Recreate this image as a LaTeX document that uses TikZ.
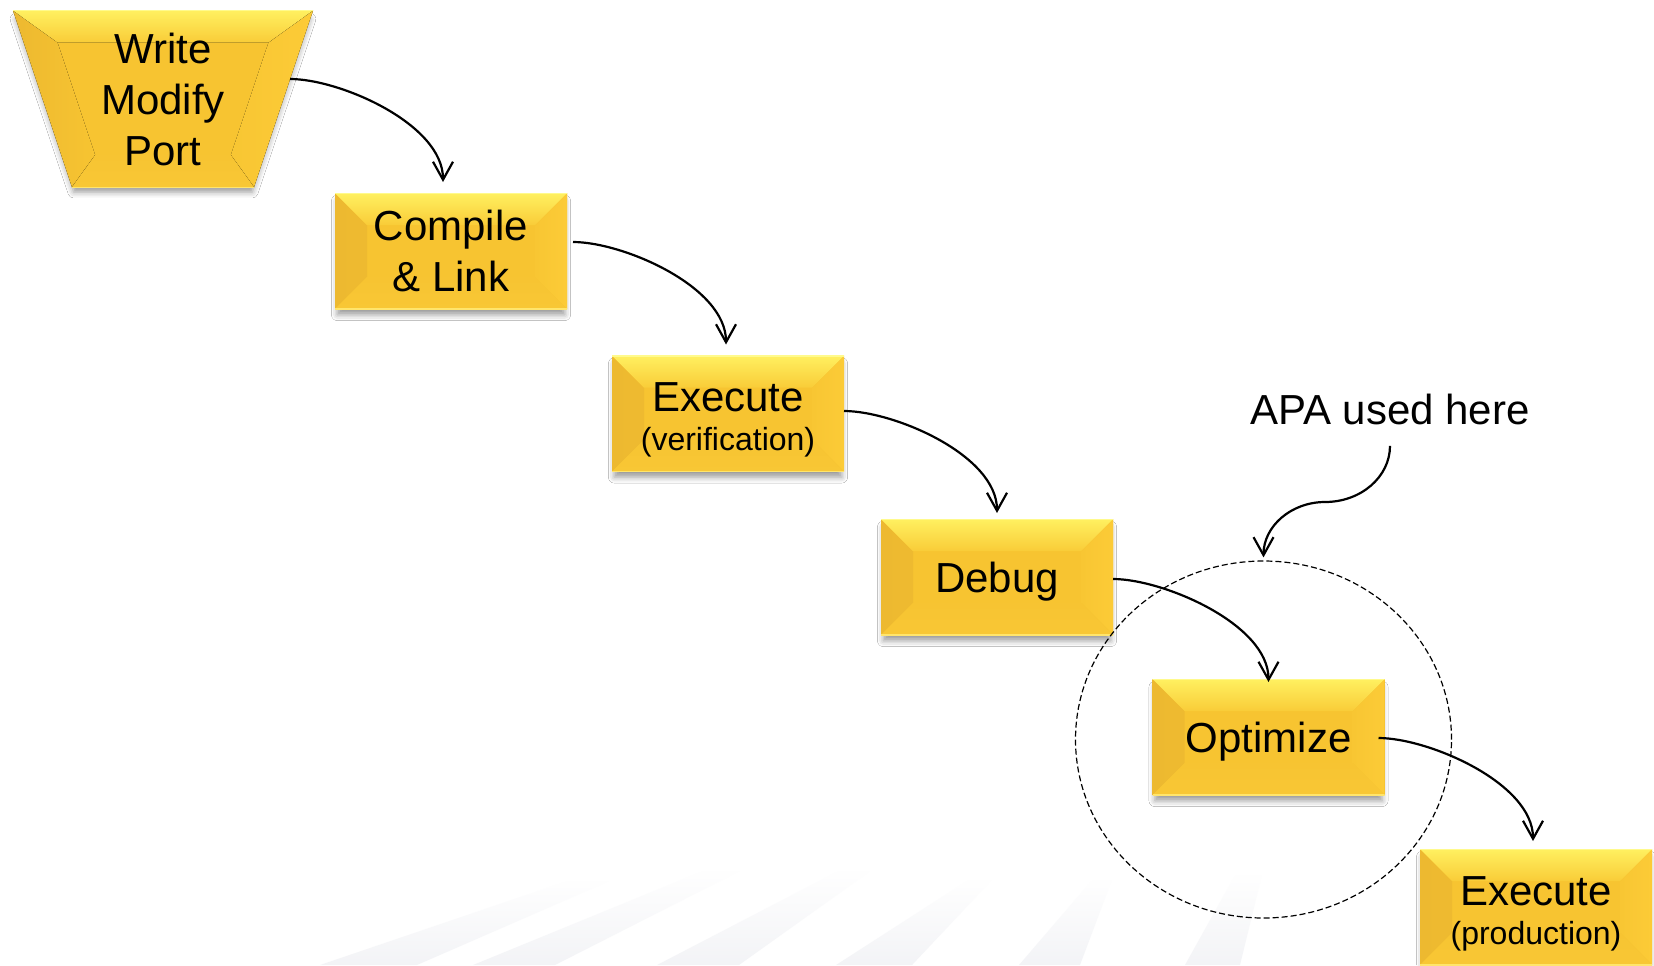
\documentclass[tikz,border=0pt]{standalone}
\usepackage{fontspec}
\setmainfont{Liberation Sans}
\usetikzlibrary{arrows.meta,shapes.geometric,shadows.blur,fadings,calc}

\definecolor{face}{HTML}{F7C431}
\definecolor{bevtopA}{HTML}{FFF060}
\definecolor{bevtopB}{HTML}{F9CC38}
\definecolor{bevleftA}{HTML}{EDB930}
\definecolor{bevleftB}{HTML}{F7C431}
\definecolor{bevrightA}{HTML}{F8C633}
\definecolor{bevrightB}{HTML}{FCCB37}
\definecolor{bevbotA}{HTML}{F7C432}
\definecolor{bevbotB}{HTML}{F8C735}
\definecolor{rimlight}{HTML}{FFFA8C}
\definecolor{rimlow}{HTML}{FFE56C}
\definecolor{streak}{HTML}{EEEFF3}

\newcommand\bv{16pt}

\tikzset{
  bevelfill/.style={path picture={
      \fill[left color=bevleftA,right color=bevleftB]
        (path picture bounding box.north west) -- (path picture bounding box.south west)
        -- ([shift={(\bv,\bv)}]path picture bounding box.south west)
        -- ([shift={(\bv,-\bv)}]path picture bounding box.north west) -- cycle;
      \fill[left color=bevrightA,right color=bevrightB]
        (path picture bounding box.north east) -- (path picture bounding box.south east)
        -- ([shift={(-\bv,\bv)}]path picture bounding box.south east)
        -- ([shift={(-\bv,-\bv)}]path picture bounding box.north east) -- cycle;
      \fill[top color=bevtopA,bottom color=bevtopB]
        (path picture bounding box.north west) -- (path picture bounding box.north east)
        -- ([shift={(-\bv,-\bv)}]path picture bounding box.north east)
        -- ([shift={(\bv,-\bv)}]path picture bounding box.north west) -- cycle;
      \fill[top color=bevbotA,bottom color=bevbotB]
        (path picture bounding box.south west) -- (path picture bounding box.south east)
        -- ([shift={(-\bv,\bv)}]path picture bounding box.south east)
        -- ([shift={(\bv,\bv)}]path picture bounding box.south west) -- cycle;
      \draw[rimlight,line width=1.2pt]
        (path picture bounding box.north west) -- (path picture bounding box.north east);
      \draw[rimlow,line width=1pt]
        (path picture bounding box.south west) -- (path picture bounding box.south east);
  }},
  softshadow/.style={blur shadow={shadow xshift=0pt,shadow yshift=-3.5pt,
      shadow scale=0.98,shadow blur radius=3pt,shadow opacity=40}},
  stepbox/.style={bevelfill, fill=face, softshadow, minimum width=116pt,
      minimum height=58pt, inner sep=0pt, outer sep=0pt, align=center,
      font=\fontsize{21}{25.5}\selectfont},
  oneline/.style={text depth=0pt},
  twosize/.style={font=\fontsize{21}{19.5}\selectfont},
  flow/.style={line width=1.1pt, -{Straight Barb[length=9pt,width=10pt]}},
  zonestyle/.style={draw, ellipse, line width=0.6pt, dash pattern=on 3pt off 1.5pt,
      minimum width=188pt, minimum height=178.5pt, inner sep=0pt},
}

\begin{document}
\begin{tikzpicture}[x=0.5pt,y=-0.5pt]
  \useasboundingbox (0,0) rectangle (1654,965);
  \fill[white] (0,0) rectangle (1654,965);

  % faint light streaks near the bottom
  \begin{scope}[fill opacity=0.7]
  \fill[streak, path fading=north] (320,965) -- (417,965) -- (612,880) -- (570,880) -- cycle;
  \fill[streak, path fading=north] (473,965) -- (555,965) -- (742,870) -- (705,870) -- cycle;
  \fill[streak, path fading=north] (657,965) -- (739,965) -- (872,870) -- (840,870) -- cycle;
  \fill[streak, path fading=north] (836,965) -- (912,965) -- (992,880) -- (968,880) -- cycle;
  \fill[streak, path fading=north] (1019,965) -- (1080,965) -- (1112,880) -- (1092,880) -- cycle;
  \fill[streak, path fading=north] (1185,965) -- (1240,965) -- (1262,875) -- (1235,875) -- cycle;
  \end{scope}

  % first step: inverted trapezoid with bevelled rim
  \coordinate (tTL) at (13,10.5);   \coordinate (tTR) at (313,10.5);
  \coordinate (tBR) at (254,187);   \coordinate (tBL) at (72,187);
  \coordinate (iTL) at (57.5,42.5); \coordinate (iTR) at (268.5,42.5);
  \coordinate (iBR) at (230.9,155); \coordinate (iBL) at (95.1,155);
  \path[fill=face, softshadow] (tTL) -- (tTR) -- (tBR) -- (tBL) -- cycle;
  \fill[left color=bevleftA,right color=bevleftB] (tTL) -- (tBL) -- (iBL) -- (iTL) -- cycle;
  \fill[left color=bevrightA,right color=bevrightB] (tTR) -- (tBR) -- (iBR) -- (iTR) -- cycle;
  \fill[top color=bevtopA,bottom color=bevtopB] (tTL) -- (tTR) -- (iTR) -- (iTL) -- cycle;
  \fill[top color=bevbotA,bottom color=bevbotB] (tBL) -- (tBR) -- (iBR) -- (iBL) -- cycle;
  \draw[rimlight,line width=0.6pt] (tTL) -- (tTR);
  \draw[rimlow,line width=0.5pt] (tBL) -- (tBR);
  \node[font=\fontsize{21}{25.5}\selectfont, align=center, inner sep=0pt] (wmp) at (163,99)
    {Write\\Modify\\Port};
  \coordinate (wmpout) at (290,79);

  % remaining steps
  \node[stepbox] (cl) at (451,251) {Compile\\\& Link};
  \node[stepbox,twosize] (ev) at (728,413.5)
    {\rule{0pt}{21pt}Execute\\{\fontsize{16}{19.5}\selectfont(verification)}};
  \node[stepbox,oneline] (db) at (997,577) {Debug};
  \node[stepbox,oneline] (op) at (1268.5,737) {Optimize};
  \node[stepbox,twosize] (ep) at (1536,907)
    {\rule{0pt}{21pt}Execute\\{\fontsize{16}{19.5}\selectfont(production)}};

  % dashed zone around the optimisation step
  \node[zonestyle] (zone) at (1263.5,739.5) {};

  % flow between the steps
  \draw[flow] (wmpout) .. controls +(50,0) and +(0,-58) .. ([xshift=-4pt,yshift=5.5pt]cl.north);
  \draw[flow] ([xshift=3pt,yshift=4.5pt]cl.east) .. controls +(50,0) and +(0,-58) .. ([xshift=-1pt,yshift=5.5pt]ev.north);
  \draw[flow] ([yshift=1.25pt]ev.east) .. controls +(50,0) and +(0,-58) .. ([yshift=3pt]db.north);
  \draw[flow] ([yshift=-1pt]db.east) .. controls +(50,0) and +(0,-58) .. ([yshift=-1.5pt]op.north);
  \draw[flow] ([xshift=-3pt,yshift=-0.5pt]op.east) .. controls +(50,0) and +(0,-58) .. ([xshift=-1.5pt,yshift=4pt]ep.north);

  % annotation
  \node[font=\fontsize{21}{25}\selectfont, inner sep=0pt] (apa) at (1390,409) {APA used here};
  \coordinate (apabend) at (1325,502);
  \draw[flow] ([yshift=-10.5pt]apa.south) .. controls +(0,31) and +(36,0) .. (apabend)
    .. controls +(-34,0) and +(0,-31) .. ([yshift=1.5pt]zone.north);
\end{tikzpicture}
\end{document}
